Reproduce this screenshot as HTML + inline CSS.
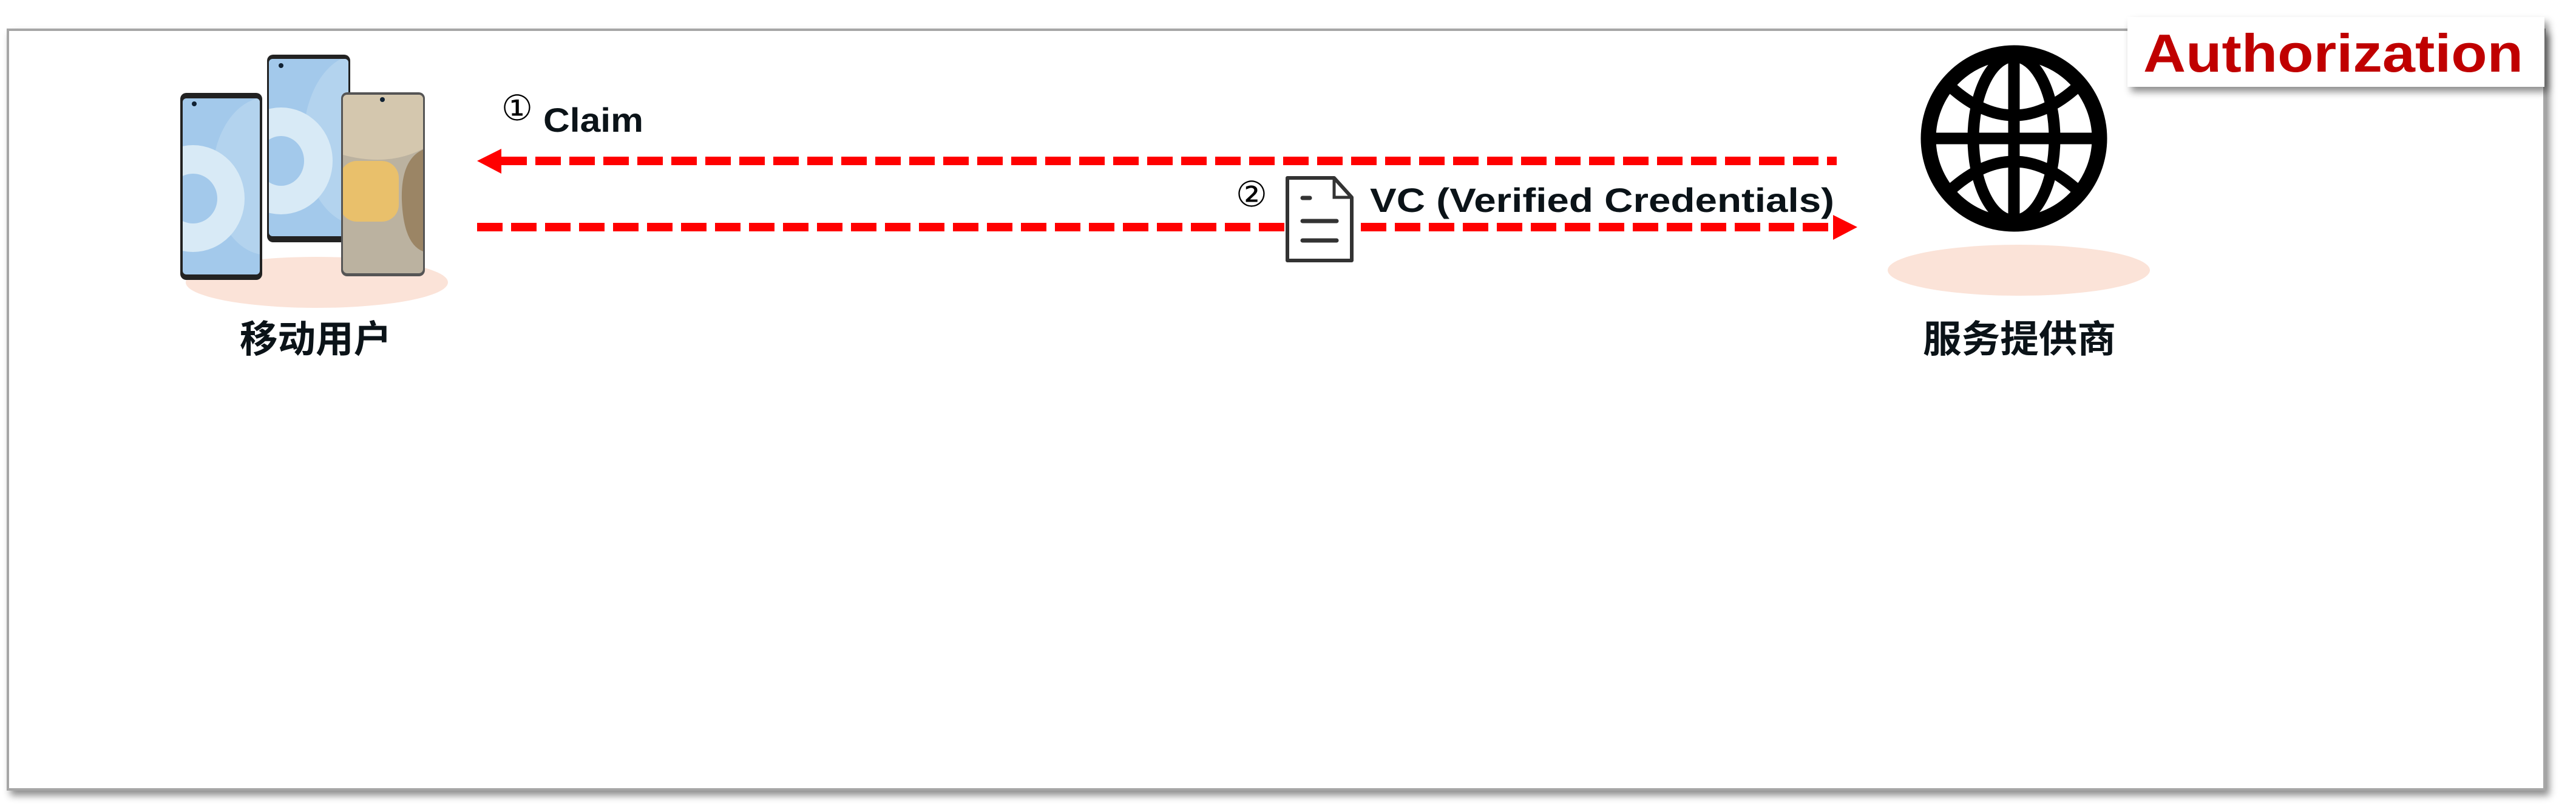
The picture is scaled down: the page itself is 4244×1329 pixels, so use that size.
<!DOCTYPE html>
<html><head><meta charset="utf-8"><style>
html,body{margin:0;padding:0;background:#fff;}
svg{display:block;}
text{font-family:"Liberation Sans","DejaVu Sans","Noto Sans CJK SC",sans-serif;font-weight:bold;}
</style></head><body>
<svg width="4244" height="1329" viewBox="0 0 4244 1329" xmlns="http://www.w3.org/2000/svg">
<defs>
<filter id="sh" x="-10%" y="-20%" width="130%" height="160%"><feDropShadow dx="6" dy="8" stdDeviation="6" flood-color="#000" flood-opacity="0.45"/></filter>
<clipPath id="gc"><circle cx="3318" cy="228" r="140"/></clipPath>
<clipPath id="p1"><rect x="301" y="162" width="127" height="290" rx="6"/></clipPath>
<clipPath id="p2"><rect x="443" y="97" width="131" height="292" rx="6"/></clipPath>
<clipPath id="p3"><rect x="565" y="156" width="132" height="294" rx="7"/></clipPath>
</defs>
<rect x="13" y="49" width="4179" height="1251" fill="#fff" stroke="#a6a6a6" stroke-width="4" filter="url(#sh)"/>
<!-- Authorization -->
<rect x="3505" y="28" width="687" height="115" fill="#fff" filter="url(#sh)"/>
<text x="3531" y="118" font-size="88" fill="#c00000" textLength="626" lengthAdjust="spacingAndGlyphs">Authorization</text>

<!-- user ellipse -->
<ellipse cx="522" cy="465" rx="216" ry="42" fill="#fbe3d8"/>
<!-- phone 1 -->
<rect x="297" y="153" width="135" height="308" rx="10" fill="#222"/>
<rect x="301" y="162" width="127" height="290" rx="6" fill="#a3c9eb"/>
<g clip-path="url(#p1)">
<ellipse cx="440" cy="290" rx="90" ry="130" fill="#b3d3ee"/>
<ellipse cx="318" cy="327" rx="85" ry="88" fill="#d8eaf6"/>
<ellipse cx="318" cy="327" rx="40" ry="41" fill="#a3c9eb"/>
</g>
<circle cx="320" cy="171" r="4" fill="#123"/>
<!-- phone 2 -->
<rect x="440" y="90" width="137" height="309" rx="10" fill="#222"/>
<rect x="443" y="97" width="131" height="292" rx="6" fill="#a3c9eb"/>
<g clip-path="url(#p2)">
<ellipse cx="590" cy="230" rx="90" ry="140" fill="#b3d3ee"/>
<ellipse cx="463" cy="265" rx="85" ry="88" fill="#d8eaf6"/>
<ellipse cx="463" cy="265" rx="38" ry="41" fill="#a3c9eb"/>
</g>
<circle cx="463" cy="108" r="4" fill="#123"/>
<!-- phone 3 -->
<rect x="562" y="152" width="138" height="303" rx="10" fill="#555"/>
<rect x="565" y="156" width="132" height="294" rx="7" fill="#bbb2a0"/>
<g clip-path="url(#p3)">
<path d="M565 150 H697 V245 Q640 275 565 255 Z" fill="#d4c7ae"/>
<rect x="560" y="265" width="97" height="100" rx="28" fill="#e9c06b"/>
<path d="M700 245 Q660 260 662 330 Q665 405 700 415 Z" fill="#9b8565"/>
</g>
<circle cx="630" cy="164" r="4" fill="#123"/>
<text x="520" y="580" font-size="62" fill="#0b1318" text-anchor="middle" textLength="250" lengthAdjust="spacingAndGlyphs" font-family="'Noto Sans CJK SC',sans-serif">移动用户</text>

<!-- arrows -->
<line x1="826" y1="265" x2="3026" y2="265" stroke="#f00" stroke-width="14" stroke-dasharray="42 14"/>
<polygon points="786,265 826,245 826,286" fill="#f00"/>
<line x1="786" y1="374" x2="3024" y2="374" stroke="#f00" stroke-width="14" stroke-dasharray="42 14"/>
<polygon points="3060,374 3020,354 3020,395" fill="#f00"/>

<text x="826" y="198" font-size="58" fill="#000" style="font-weight:normal" font-family="'DejaVu Sans',sans-serif">①</text>
<text x="895" y="217" font-size="56" fill="#0b1318" textLength="165" lengthAdjust="spacingAndGlyphs">Claim</text>
<text x="2036" y="340" font-size="58" fill="#000" style="font-weight:normal" font-family="'DejaVu Sans',sans-serif">②</text>
<!-- doc icon -->
<path d="M2121 293 H2198 L2227 325 V429 H2121 Z" fill="#fff" stroke="#333" stroke-width="6" stroke-linejoin="round"/>
<path d="M2198 293 V325 H2227" fill="none" stroke="#333" stroke-width="5"/>
<line x1="2146" y1="326" x2="2158" y2="326" stroke="#333" stroke-width="7" stroke-linecap="round"/>
<line x1="2146" y1="364" x2="2202" y2="364" stroke="#333" stroke-width="7" stroke-linecap="round"/>
<line x1="2146" y1="396" x2="2202" y2="396" stroke="#333" stroke-width="7" stroke-linecap="round"/>
<text x="2257" y="349" font-size="56" fill="#0b1318" textLength="765" lengthAdjust="spacingAndGlyphs">VC (Verified Credentials)</text>

<!-- globe -->
<ellipse cx="3326" cy="445" rx="216" ry="42" fill="#fbe3d8"/>
<circle cx="3318" cy="228" r="141" fill="none" stroke="#000" stroke-width="25"/>
<g clip-path="url(#gc)" stroke="#000" stroke-width="19" fill="none">
<ellipse cx="3318" cy="228" rx="67" ry="135"/>
<line x1="3318" y1="80" x2="3318" y2="380"/>
<line x1="3160" y1="228" x2="3480" y2="228"/>
<path d="M3200 130 Q3318 250 3436 130"/>
<path d="M3200 326 Q3318 206 3436 326"/>
</g>
<text x="3327" y="580" font-size="62" fill="#0b1318" text-anchor="middle" textLength="318" lengthAdjust="spacingAndGlyphs" font-family="'Noto Sans CJK SC',sans-serif">服务提供商</text>
</svg>
</body></html>
